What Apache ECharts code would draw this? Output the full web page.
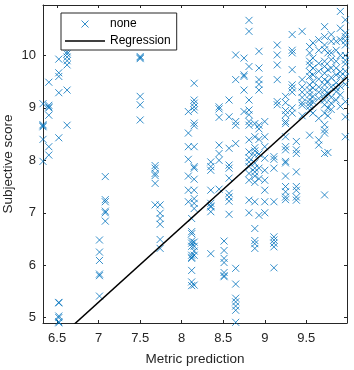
<!DOCTYPE html>
<html><head><meta charset="utf-8">
<script src="https://cdn.jsdelivr.net/npm/echarts@6/dist/echarts.min.js"></script>
<style>html,body{margin:0;padding:0;background:#fff}#c{width:354px;height:370px}</style>
</head><body><div id="c"></div>
<script>
// Metric prediction columns and their subjective scores
const colX = [6.33, 6.40, 6.52, 6.62, 7.01, 7.08, 7.50, 7.68, 7.74,
  8.08, 8.12, 8.15, 8.35, 8.45, 8.51, 8.57, 8.65, 8.75, 8.81, 8.88, 8.93,
  9.00, 9.11, 9.15, 9.25, 9.33, 9.38, 9.45, 9.54, 9.58, 9.65, 9.72, 9.76,
  9.80, 9.86, 9.91, 9.97];
const colY = [
  [9.08, 8.68, 8.66, 8.64, 8.40, 7.98],
  [9.49, 9.05, 9.02, 9.00, 8.86, 8.26, 8.10],
  [9.93, 9.67, 9.60, 9.29, 8.43, 5.29, 5.28, 5.03, 5.00, 4.92, 4.90],
  [10.07, 10.03, 9.97, 9.90, 9.82, 9.34, 8.67],
  [6.48, 6.25, 6.09, 5.83, 5.80, 5.41],
  [7.69, 7.25, 7.21, 7.03, 7.00, 6.84],
  [9.98, 9.96, 9.94, 9.22, 9.06, 8.77],
  [7.90, 7.85, 7.75, 7.71, 7.56, 7.15],
  [7.15, 6.99, 6.89, 6.78, 6.49, 6.32],
  [8.93, 8.52, 8.26, 8.02, 7.70, 7.43, 7.21],
  [6.89, 6.64, 6.60, 6.46, 6.42, 6.36, 6.19, 6.15, 6.13, 5.90, 5.68, 5.61],
  [9.47, 9.15, 9.09, 9.02, 8.96, 8.71, 8.66, 8.26, 7.88, 7.85, 7.64, 7.43, 7.27, 7.18, 7.08, 6.44, 6.36, 6.27, 6.19, 5.62],
  [7.97, 7.88, 7.81, 7.43, 7.18, 7.13, 7.11, 7.02, 6.22],
  [9.02, 8.98, 8.82, 8.29, 8.13, 8.00, 7.45],
  [6.46, 6.28, 6.13, 6.05, 5.86, 5.80, 5.78],
  [9.15, 8.83, 8.23, 7.91, 7.85, 7.66, 7.37, 7.30, 7.22, 6.97],
  [10.01, 9.54, 8.74, 8.67, 8.32, 5.94, 5.64, 5.37, 5.30, 5.22, 5.14, 4.91],
  [9.95, 9.63, 9.60, 9.34, 8.93],
  [10.67, 10.46, 9.79, 9.15, 8.96, 8.87, 8.74, 8.67, 8.39, 8.16, 8.05, 7.97, 7.88, 7.75, 7.62, 7.24, 7.00],
  [8.70, 8.45, 8.24, 8.18, 8.10, 7.95, 7.85, 7.78, 7.70, 7.58, 7.21, 6.70, 6.47, 6.41, 6.32],
  [10.08, 9.76, 9.54, 9.45, 9.34, 8.67, 8.60, 8.40, 8.12, 7.85, 7.65, 6.95],
  [8.74, 8.45, 8.26, 8.04, 7.81, 7.62, 7.43, 7.21, 7.00],
  [8.07, 8.02, 7.85, 7.21, 6.54, 6.48, 6.42, 6.35, 5.95],
  [10.20, 10.01, 9.82, 9.54, 9.12, 9.06],
  [9.22, 9.10, 8.95, 8.87, 8.74, 8.70, 8.45, 8.26, 8.20, 7.98, 7.95, 7.70, 7.50, 7.40, 7.30, 7.25],
  [10.40, 10.10, 10.05, 9.73, 9.44, 9.38, 9.30, 9.00, 8.90],
  [8.36, 8.20, 8.13, 7.78, 7.50, 7.43, 7.30, 7.24],
  [10.46, 9.54, 9.40, 9.30, 9.20, 9.10, 9.05, 8.85],
  [10.17, 10.05, 9.89, 9.82, 9.69, 9.60, 9.44, 9.34, 9.25, 9.15, 9.09, 9.03, 8.96, 8.48],
  [10.24, 9.95, 9.76, 9.63, 9.50, 9.38, 9.22, 9.12, 8.90],
  [10.30, 10.10, 9.85, 9.70, 9.55, 9.40, 9.30, 9.18, 8.80, 8.39, 8.29],
  [10.55, 10.36, 10.20, 10.11, 9.89, 9.79, 9.66, 9.54, 9.44, 9.34, 9.25, 9.15, 9.06, 8.90, 8.68, 8.58, 8.52, 8.13, 7.34],
  [10.97, 10.05, 9.73, 9.50, 9.28, 9.00, 8.85, 8.15],
  [10.40, 10.27, 10.05, 9.92, 9.76, 9.58, 9.40, 9.20, 9.09, 8.97],
  [10.27, 10.10, 9.89, 9.76, 9.63, 9.48, 9.38, 9.31, 9.15],
  [10.84, 10.52, 10.30, 10.00, 9.69, 9.60, 9.41, 9.25, 9.03],
  [10.68, 10.43, 10.36, 10.28, 10.20, 10.00, 9.91, 9.84, 9.70, 9.60, 9.45, 9.12, 8.83, 8.45]
];
const regSlope = 1.435;
const regIntercept = -4.750;
const xTicks = [6.5, 7, 7.5, 8, 8.5, 9, 9.5];
const yTicks = [5, 6, 7, 8, 9, 10];
const xRange = [6.33, 9.99];
const yRange = [4.897, 10.963];

const pts = [];
colX.forEach((x, i) => colY[i].forEach(y => pts.push([x, y])));
const regLine = xRange.map(x => [x, regSlope * x + regIntercept]);

const FONT = '"Liberation Sans", Arial, Helvetica, sans-serif';
const AX = '#262626';
const BLUE = '#0072BD';
const chart = echarts.init(document.getElementById('c'), null, {renderer: 'canvas'});
const xBase = {
  type: 'value', min: xRange[0], max: xRange[1],
  axisLine: {show: true, onZero: false, lineStyle: {color: AX, width: 1}},
  axisTick: {show: true, inside: true, length: 3, customValues: xTicks, lineStyle: {color: AX}},
  splitLine: {show: false}
};
const yBase = {
  type: 'value', min: yRange[0], max: yRange[1],
  axisLine: {show: true, onZero: false, lineStyle: {color: AX, width: 1}},
  axisTick: {show: true, inside: true, length: 3, customValues: yTicks, lineStyle: {color: AX}},
  splitLine: {show: false}
};
chart.setOption({
  animation: false,
  grid: {left: 43, right: 7, top: 5, bottom: 47, containLabel: false, outerBoundsMode: 'none'},
  legend: {
    orient: 'vertical', left: 61, top: 13,
    data: [
      {name: 'none', icon: 'path://M0,0L10,10M10,0L0,10',
        itemStyle: {color: 'rgba(0,0,0,0)', borderColor: BLUE, borderWidth: 1}},
      {name: 'Regression', icon: 'path://M0,0H40V1.5H0Z',
        itemStyle: {color: '#000', borderWidth: 0}}
    ],
    itemWidth: 40, itemHeight: 7, itemGap: 3,
    padding: [4, 6, 2, 4],
    borderColor: AX, borderWidth: 1, backgroundColor: '#fff',
    textStyle: {fontFamily: FONT, fontSize: 12, color: '#000', lineHeight: 14},
    selectedMode: false
  },
  xAxis: [
    Object.assign({}, xBase, {
      position: 'bottom',
      axisLabel: {customValues: xTicks, fontFamily: FONT, fontSize: 13, color: AX, margin: 9},
      name: 'Metric prediction', nameLocation: 'middle', nameGap: 29, nameMoveOverlap: false,
      nameTextStyle: {fontFamily: FONT, fontSize: 13.5, color: AX}
    }),
    Object.assign({}, xBase, {position: 'top', axisLabel: {show: false}})
  ],
  yAxis: [
    Object.assign({}, yBase, {
      position: 'left',
      axisLabel: {customValues: yTicks, fontFamily: FONT, fontSize: 13, color: AX, margin: 7},
      name: 'Subjective score', nameLocation: 'middle', nameGap: 28, nameMoveOverlap: false,
      nameTextStyle: {fontFamily: FONT, fontSize: 13.5, color: AX}
    }),
    Object.assign({}, yBase, {position: 'right', axisLabel: {show: false}})
  ],
  series: [
    {
      name: 'none', type: 'scatter', data: pts,
      symbol: 'path://M0,0L10,10M10,0L0,10', symbolSize: 7,
      itemStyle: {color: 'rgba(0,0,0,0)', borderColor: BLUE, borderWidth: 1},
      emphasis: {disabled: true}
    },
    {
      name: 'Regression', type: 'line', data: regLine,
      showSymbol: false, symbol: 'none', clip: true,
      lineStyle: {color: '#000', width: 1.5},
      itemStyle: {color: '#000'},
      emphasis: {disabled: true}
    }
  ]
});
</script></body></html>
